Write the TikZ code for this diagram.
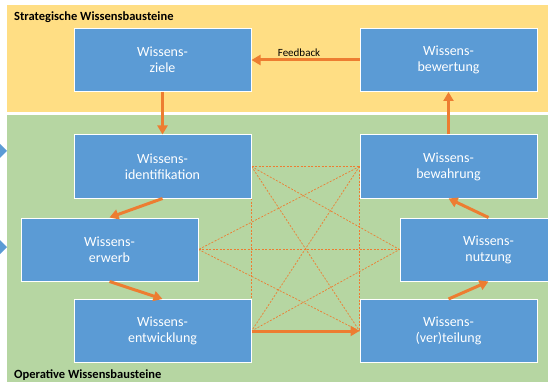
\documentclass[tikz,border=0pt]{standalone}
\usepackage{fontspec}
\setmainfont{Carlito}
\usetikzlibrary{arrows.meta,backgrounds}
\definecolor{boxblue}{HTML}{5B9BD5}
\definecolor{flow}{HTML}{ED7D31}
\definecolor{stratyellow}{HTML}{FFDE84}
\definecolor{opgreen}{HTML}{B6D6A2}

\begin{document}
\begin{tikzpicture}[x=1pt,y=-1pt,
    wbox/.style={draw=white, line width=1pt, fill=boxblue, text=white,
        minimum width=177pt, minimum height=63pt, align=center,
        font=\fontsize{14}{16}\selectfont},
    flowarrow/.style={flow, line width=3pt, -{Triangle[length=9pt,width=10pt]}},
    netline/.style={flow, line width=0.7pt, dash pattern=on 2pt off 1.5pt},
    panellabel/.style={anchor=west, inner sep=0pt, font=\bfseries\fontsize{12.5}{14}\selectfont}]

    \useasboundingbox (0,0) rectangle (548,382);
    \clip (0,0) rectangle (548,382);

    % Strategic blocks
    \node[wbox] (ziele) at (162.5,60) {Wissens-\\ziele};
    \node[wbox] (bewertung) at (448.5,60) {Wissens-\\bewertung};

    % Operative blocks
    \node[wbox] (identifikation) at (162.5,166.5) {Wissens-\\identifikation};
    \node[wbox] (bewahrung) at (448.5,166.5) {Wissens-\\bewahrung};
    \node[wbox] (erwerb) at (109.5,249.5) {Wissens-\\erwerb};
    \node[wbox] (nutzung) at (488.5,249.5) {Wissens-\\nutzung};
    \node[wbox] (entwicklung) at (162.5,331) {Wissens-\\entwicklung};
    \node[wbox] (teilung) at (448.5,331) {Wissens-\\(ver)teilung};

    % Panel labels
    \node[panellabel] (strategisch) at (14,17) {Strategische Wissensbausteine};
    \node[panellabel] (operativ) at (14,375) {Operative Wissensbausteine};

    % Panels and dashed network behind the boxes
    \begin{pgfonlayer}{background}
        \fill[stratyellow] (7,5) rectangle (548,112);
        \fill[opgreen] (7,115) rectangle (548,382);
        \draw[netline] (identifikation.east) -- (bewahrung.west);
        \draw[netline] (erwerb.east) -- (nutzung.west);
        \draw[netline] (identifikation.east) -- (entwicklung.east);
        \draw[netline] (bewahrung.west) -- (teilung.west);
        \draw[netline] (identifikation.east) -- (nutzung.west);
        \draw[netline] (identifikation.east) -- (teilung.west);
        \draw[netline] (bewahrung.west) -- (erwerb.east);
        \draw[netline] (bewahrung.west) -- (entwicklung.east);
        \draw[netline] (erwerb.east) -- (teilung.west);
        \draw[netline] (entwicklung.east) -- (nutzung.west);
    \end{pgfonlayer}

    % Cut-off markers at the left edge
    \fill[boxblue] (0,144) -- (7,151) -- (0,158) -- cycle;
    \fill[boxblue] (0,240) -- (7,247) -- (0,254) -- cycle;

    % Cycle of arrows
    \draw[flowarrow] (ziele.south) -- (identifikation.north);
    \draw[flowarrow] (identifikation.south) -- (erwerb.north);
    \draw[flowarrow] (erwerb.south) -- (entwicklung.north);
    \draw[flowarrow] (entwicklung.east) -- (teilung.west);
    \draw[flowarrow] (teilung.north) -- (nutzung.south);
    \draw[flowarrow] (nutzung.north) -- (bewahrung.south);
    \draw[flowarrow] (bewahrung.north) -- (bewertung.south);
    \draw[flowarrow] (bewertung.west) -- node[above, pos=0.56, inner sep=1.5pt,
        text=black, font=\fontsize{11}{13}\selectfont] {Feedback} (ziele.east);

\end{tikzpicture}
\end{document}
